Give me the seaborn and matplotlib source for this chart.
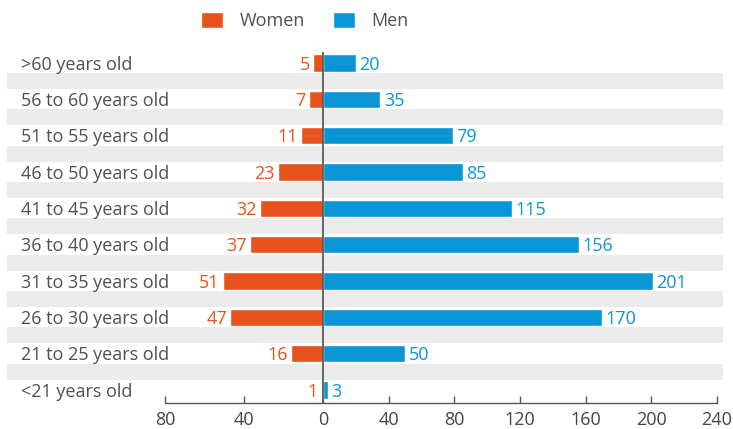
import numpy as np
import pandas as pd
import matplotlib
matplotlib.use("Agg")
import matplotlib.pyplot as plt
import matplotlib.transforms as mtransforms
from matplotlib.patches import Patch
import seaborn as sns

# ---- data ----
age_groups = [">60 years old", "56 to 60 years old", "51 to 55 years old",
              "46 to 50 years old", "41 to 45 years old", "36 to 40 years old",
              "31 to 35 years old", "26 to 30 years old", "21 to 25 years old",
              "<21 years old"]
women = [5, 7, 11, 23, 32, 37, 51, 47, 16, 1]
men = [20, 35, 79, 85, 115, 156, 201, 170, 50, 3]
x_ticks = [-80, -40, 0, 40, 80, 120, 160, 200, 240]
x_tick_labels = ["80", "40", "0", "40", "80", "120", "160", "200", "240"]

ORANGE = "#E8531D"
BLUE = "#0A96D6"
GREY_TXT = "#505050"
BAND = "#EBEBEB"
FS = 13

df = pd.DataFrame({
    "age": age_groups * 2,
    "value": [-w for w in women] + list(men),
    "sex": ["Women"] * len(women) + ["Men"] * len(men),
})

sns.set_theme(style="white")
plt.rcParams["font.family"] = ["Open Sans", "DejaVu Sans"]

W, H = 733, 429
fig = plt.figure(figsize=(W / 100, H / 100), dpi=100)
ax_left, ax_right = 7, 723
ax_top, ax_bottom = 39, 403
ax = fig.add_axes([ax_left / W, 1 - ax_bottom / H, (ax_right - ax_left) / W, (ax_bottom - ax_top) / H])

sns.barplot(data=df, y="age", x="value", hue="sex", order=age_groups,
            hue_order=["Women", "Men"], palette={"Women": ORANGE, "Men": BLUE},
            dodge=False, width=0.47, orient="y", legend=False, saturation=1,
            ax=ax, zorder=3)

# piecewise scale: women side drawn at a larger scale than men side
K = 1.2
def fwd(x):
    x = np.asarray(x, dtype=float)
    return np.where(x < 0, x * K, x)
def inv(u):
    u = np.asarray(u, dtype=float)
    return np.where(u < 0, u / K, u)
ax.set_xscale("function", functions=(fwd, inv))

ax.set_xlim(-160.4, 243.65)
ax.set_ylim(9.358, -0.66)

# background bands between rows
for i in range(len(age_groups) - 1):
    ax.axhspan(i + 0.28, i + 0.72, color=BAND, zorder=0, lw=0)

# zero line
ax.vlines(0, -0.3, 9.358, color="#5a5a5a", lw=1.3, zorder=4)

# category labels
trans = mtransforms.blended_transform_factory(ax.transAxes, ax.transData)
for i, lab in enumerate(age_groups):
    ax.annotate(lab, xy=((21 - ax_left) / (ax_right - ax_left), i), xycoords=trans,
                xytext=(0, -1.2), textcoords="offset points",
                ha="left", va="center", fontsize=FS, color=GREY_TXT)

# value labels
anns = ax.bar_label(ax.containers[0], labels=[str(v) for v in women], padding=2.5,
                    color=ORANGE, fontsize=FS)
anns += ax.bar_label(ax.containers[1], labels=[str(v) for v in men], padding=2.5,
                     color=BLUE, fontsize=FS)
for a in anns:
    a.xyann = (a.xyann[0], -1.2)

# axes styling
for s in ["top", "left", "right"]:
    ax.spines[s].set_visible(False)
ax.spines["bottom"].set_bounds(-80, 240)
ax.spines["bottom"].set_color("#555555")
ax.spines["bottom"].set_linewidth(1.0)
ax.set_yticks([])
ax.set_ylabel("")
ax.set_xlabel("")
ax.set_xticks(x_ticks)
ax.set_xticklabels(x_tick_labels)
ax.tick_params(axis="x", direction="in", length=5, width=1, color="#555555",
               labelsize=FS, labelcolor="#444444", pad=6, bottom=True)
ax.set_facecolor("white")

handles = [Patch(facecolor=ORANGE, label="Women"), Patch(facecolor=BLUE, label="Men")]
leg = fig.legend(handles=handles, loc="center", bbox_to_anchor=(305 / W, 1 - 21 / H),
                 ncol=2, frameon=False, fontsize=FS, handlelength=1.22,
                 handleheight=0.94, handletextpad=0.94, columnspacing=1.5)
for t in leg.get_texts():
    t.set_color(GREY_TXT)

fig.savefig("out.png", dpi=100)
